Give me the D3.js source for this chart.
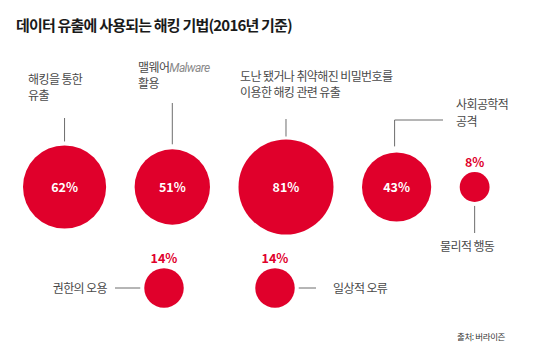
<!DOCTYPE html>
<html>
<head>
<meta charset="utf-8">
<script src="https://cdn.jsdelivr.net/npm/d3@7"></script>
<style>
  body { margin: 0; background: #fff; }
  svg { display: block; }
  text { font-family: "Noto Sans CJK KR", "Noto Sans", sans-serif; }
</style>
</head>
<body>
<svg id="chart" width="540" height="362"></svg>
<script>
const title = "데이터 유출에 사용되는 해킹 기법(2016년 기준)";
const methods = [
  "해킹을 통한 유출",
  "맬웨어Malware 활용",
  "도난 됐거나 취약해진 비밀번호를 이용한 해킹 관련 유출",
  "사회공학적 공격",
  "물리적 행동",
  "권한의 오용",
  "일상적 오류"
];
const shares = [62, 51, 81, 43, 8, 14, 14];
const source = "출처: 버라이즌";

// how each label breaks into lines
const labelLines = [
  ["해킹을 통한", "유출"],
  ["맬웨어|Malware", "활용"],
  ["도난 됐거나 취약해진 비밀번호를", "이용한 해킹 관련 유출"],
  ["사회공학적", "공격"],
  ["물리적 행동"],
  ["권한의 오용"],
  ["일상적 오류"]
];

const RED = "#e0002b";
const svg = d3.select("#chart");

const r = d3.scaleSqrt().domain([0, d3.max(shares)]).range([0, 47.5]);

// row 1: circles packed left to right with a fixed gap
const row1Y = 187, row2Y = 288, gap = 28.5;
const pos = [];
let edge = 23;
for (let i = 0; i < 5; i++) {
  const rad = r(shares[i]);
  pos.push([edge + rad, row1Y]);
  edge += 2 * rad + gap;
}
pos.push([164, row2Y], [275, row2Y]);

svg.append("text")
  .attr("x", 16).attr("y", 31)
  .attr("font-size", 15).attr("font-weight", 700)
  .attr("letter-spacing", "-0.8px")
  .attr("fill", "#1a1a1a")
  .text(title);

const data = methods.map((m, i) => ({
  name: m, value: shares[i], lines: labelLines[i],
  x: pos[i][0], y: pos[i][1], r: r(shares[i])
}));

svg.selectAll("circle.bubble")
  .data(data)
  .join("circle")
  .attr("class", "bubble")
  .attr("cx", d => d.x).attr("cy", d => d.y).attr("r", d => d.r)
  .attr("fill", RED);

// values: inside big circles, above the small ones
svg.selectAll("text.val")
  .data(data)
  .join("text")
  .attr("class", "val")
  .attr("x", d => d.x)
  .attr("y", d => d.r > 25 ? d.y : d.y - d.r - 10)
  .attr("dy", "0.36em")
  .attr("text-anchor", "middle")
  .attr("font-size", 12.5).attr("font-weight", 700)
  .attr("fill", d => d.r > 25 ? "#fff" : RED)
  .text(d => d.value + "%");

// connectors
const lineColor = "#6d6d6d";
const conn = [
  d => [[d.x, 118], [d.x, d.y - d.r - 4]],
  d => [[d.x, 103], [d.x, d.y - d.r - 5]],
  d => [[d.x, 119], [d.x, d.y - d.r - 3]],
  d => [[443, 120], [d.x - 2, 120], [d.x - 2, d.y - d.r - 6]],
  d => [[d.x, d.y + d.r + 4], [d.x, 233]],
  d => [[d.x - d.r - 4, d.y], [115, d.y]],
  d => [[d.x + d.r + 4, d.y], [316, d.y]]
];
svg.selectAll("path.conn")
  .data(data)
  .join("path")
  .attr("class", "conn")
  .attr("d", (d, i) => d3.line()(conn[i](d)))
  .attr("fill", "none")
  .attr("stroke", lineColor)
  .attr("stroke-width", 1);

// label anchors: x, first line y, anchor
const labelAt = [
  [28, 80, "start"],
  [138, 68, "start"],
  [240, 77, "start"],
  [456, 105, "start"],
  [440, 247, "start"],
  [107, 289, "end"],
  [333, 289, "start"]
];
const lineH = [16, 16, 16, 17, 14, 14, 14];

data.forEach((d, i) => {
  const [lx, ly, anchor] = labelAt[i];
  d.lines.forEach((ln, k) => {
    const parts = ln.split("|");
    const t = svg.append("text")
      .attr("x", lx).attr("y", ly + k * lineH[i])
      .attr("dy", "0.36em")
      .attr("text-anchor", anchor)
      .attr("font-size", 12)
      .attr("letter-spacing", "-0.6px")
      .attr("fill", "#4a4a4a")
      .text(parts[0]);
    if (parts[1]) {
      t.append("tspan")
        .attr("font-style", "italic")
        .attr("font-family", "Roboto, sans-serif")
        .attr("fill", "#8a8a8a")
        .text(parts[1]);
    }
  });
});

svg.append("text")
  .attr("x", 505).attr("y", 337)
  .attr("dy", "0.36em")
  .attr("text-anchor", "end")
  .attr("font-size", 8.5)
  .attr("letter-spacing", "-0.4px")
  .attr("fill", "#333")
  .text(source);
</script>
</body>
</html>
